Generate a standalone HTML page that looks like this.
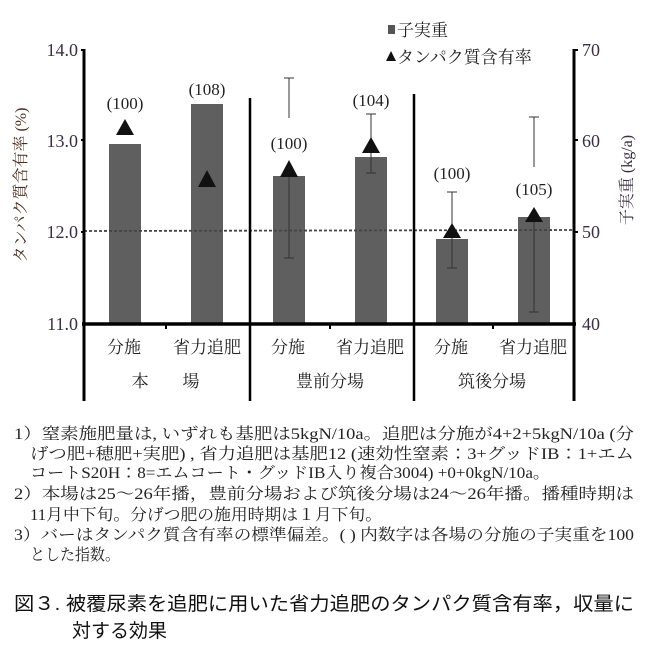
<!DOCTYPE html>
<html><head><meta charset="utf-8"><style>
body{margin:0;background:#fff;width:651px;height:657px;overflow:hidden}
svg text{font-family:"Liberation Serif","Noto Serif CJK JP","Noto Serif CJK SC",serif}
svg text.s{font-family:"Liberation Sans","Noto Sans CJK JP",sans-serif}
</style></head><body>
<svg width="651" height="657" xmlns="http://www.w3.org/2000/svg">
<g fill="#3a2e42" font-size="18" text-anchor="end">
<text x="78" y="56">14.0</text><text x="78" y="147">13.0</text><text x="78" y="238">12.0</text><text x="78" y="330">11.0</text>
</g>
<g fill="#3a2e42" font-size="18">
<text x="582" y="56">70</text><text x="582" y="147">60</text><text x="582" y="238">50</text><text x="582" y="330">40</text>
</g>
<text transform="translate(26,185) rotate(-90)" text-anchor="middle" font-size="16" fill="#4a2a1a">タンパク質含有率 (%)</text>
<text transform="translate(632,180) rotate(-90)" text-anchor="middle" font-size="16" fill="#3a2e42">子実重 (kg/a)</text>
<g fill="#5f5f5f">
<rect x="109" y="144" width="32" height="180"/><rect x="191" y="104" width="32" height="220"/>
<rect x="273" y="176" width="32" height="148"/><rect x="355" y="157" width="32" height="167"/>
<rect x="436" y="239" width="32" height="85"/><rect x="518" y="217" width="32" height="107"/>
</g>
<line x1="84" y1="231" x2="574" y2="230" stroke="#444" stroke-width="1.8" stroke-dasharray="3,2"/>
<g stroke="#333" stroke-width="1">
<line x1="289" y1="78" x2="289" y2="118"/><line x1="284" y1="78" x2="294" y2="78"/>
<line x1="289" y1="170" x2="289" y2="258"/><line x1="284" y1="258" x2="294" y2="258"/>
<line x1="371" y1="114" x2="371" y2="173"/><line x1="366" y1="114" x2="376" y2="114"/><line x1="366" y1="173" x2="376" y2="173"/>
<line x1="452" y1="192" x2="452" y2="268"/><line x1="447" y1="192" x2="457" y2="192"/><line x1="447" y1="268" x2="457" y2="268"/>
<line x1="534" y1="117" x2="534" y2="167"/><line x1="529" y1="117" x2="539" y2="117"/>
<line x1="534" y1="214" x2="534" y2="312"/><line x1="529" y1="312" x2="539" y2="312"/>
</g>
<g fill="#111">
<polygon points="125,119 116,135 134,135"/><polygon points="207,170 198,187 216,187"/>
<polygon points="289,160 280,177 298,177"/><polygon points="371,137 362,153 380,153"/>
<polygon points="452,223 443,238 461,238"/><polygon points="534,207 525,222 543,222"/>
</g>
<g font-size="17" text-anchor="middle" fill="#222">
<text x="125" y="109">(100)</text><text x="207" y="95">(108)</text>
<text x="289" y="149">(100)</text><text x="371" y="106">(104)</text>
<text x="452" y="179">(100)</text><text x="534" y="195">(105)</text>
</g>
<g stroke="#000">
<line x1="84" y1="49" x2="84" y2="401" stroke-width="3"/>
<line x1="574" y1="49" x2="574" y2="401" stroke-width="3"/>
<line x1="250" y1="98" x2="250" y2="401" stroke-width="2.5"/>
<line x1="414" y1="94" x2="414" y2="401" stroke-width="2.5"/>
<line x1="82" y1="324" x2="576" y2="324" stroke-width="3.5"/>
<line x1="81" y1="50" x2="84" y2="50" stroke-width="2"/><line x1="81" y1="140" x2="84" y2="140" stroke-width="2"/><line x1="81" y1="232" x2="84" y2="232" stroke-width="2"/>
<line x1="574" y1="50" x2="578" y2="50" stroke-width="2"/><line x1="574" y1="140" x2="578" y2="140" stroke-width="2"/><line x1="574" y1="232" x2="578" y2="232" stroke-width="2"/>
<line x1="166" y1="324" x2="166" y2="329" stroke-width="2"/><line x1="330" y1="324" x2="330" y2="329" stroke-width="2"/><line x1="493" y1="324" x2="493" y2="329" stroke-width="2"/>
</g>
<g font-size="17" text-anchor="middle" fill="#222">
<text x="124" y="353">分施</text><text x="207" y="353">省力追肥</text>
<text x="288" y="353">分施</text><text x="370" y="353">省力追肥</text>
<text x="451" y="353">分施</text><text x="533" y="353">省力追肥</text>
<text x="140" y="387">本</text><text x="191" y="387">場</text>
<text x="330" y="387">豊前分場</text><text x="492" y="387">筑後分場</text>
</g>
<rect x="388" y="25" width="7" height="9" fill="#555"/>
<text x="397" y="36" font-size="17" fill="#222">子実重</text>
<polygon points="391,51 386,61 396,61" fill="#111"/>
<text x="397" y="63" font-size="17" fill="#222">タンパク質含有率</text>
<g font-size="16" fill="#222">
<text x="14" y="439" textLength="620" lengthAdjust="spacingAndGlyphs">1）窒素施肥量は, いずれも基肥は5kgN/10a。追肥は分施が4+2+5kgN/10a (分</text>
<text x="30" y="459" textLength="604" lengthAdjust="spacingAndGlyphs">げつ肥+穂肥+実肥) , 省力追肥は基肥12 (速効性窒素：3+グッドIB：1+エム</text>
<text x="30" y="478" textLength="520" lengthAdjust="spacingAndGlyphs">コートS20H：8=エムコート・グッドIB入り複合3004) +0+0kgN/10a。</text>
<text x="14" y="499" textLength="620" lengthAdjust="spacingAndGlyphs">2）本場は25～26年播，豊前分場および筑後分場は24～26年播。播種時期は</text>
<text x="30" y="520" textLength="352" lengthAdjust="spacingAndGlyphs">11月中下旬。分げつ肥の施用時期は１月下旬。</text>
<text x="14" y="540" textLength="620" lengthAdjust="spacingAndGlyphs">3）バーはタンパク質含有率の標準偏差。( ) 内数字は各場の分施の子実重を100</text>
<text x="30" y="560" textLength="90" lengthAdjust="spacingAndGlyphs">とした指数。</text>
</g>
<text x="14" y="610" class="s" font-size="19" fill="#111" textLength="620" lengthAdjust="spacingAndGlyphs">図３.  被覆尿素を追肥に用いた省力追肥のタンパク質含有率，収量に</text>
<text x="72" y="637" class="s" font-size="19" fill="#111">対する効果</text>
</svg>
</body></html>
